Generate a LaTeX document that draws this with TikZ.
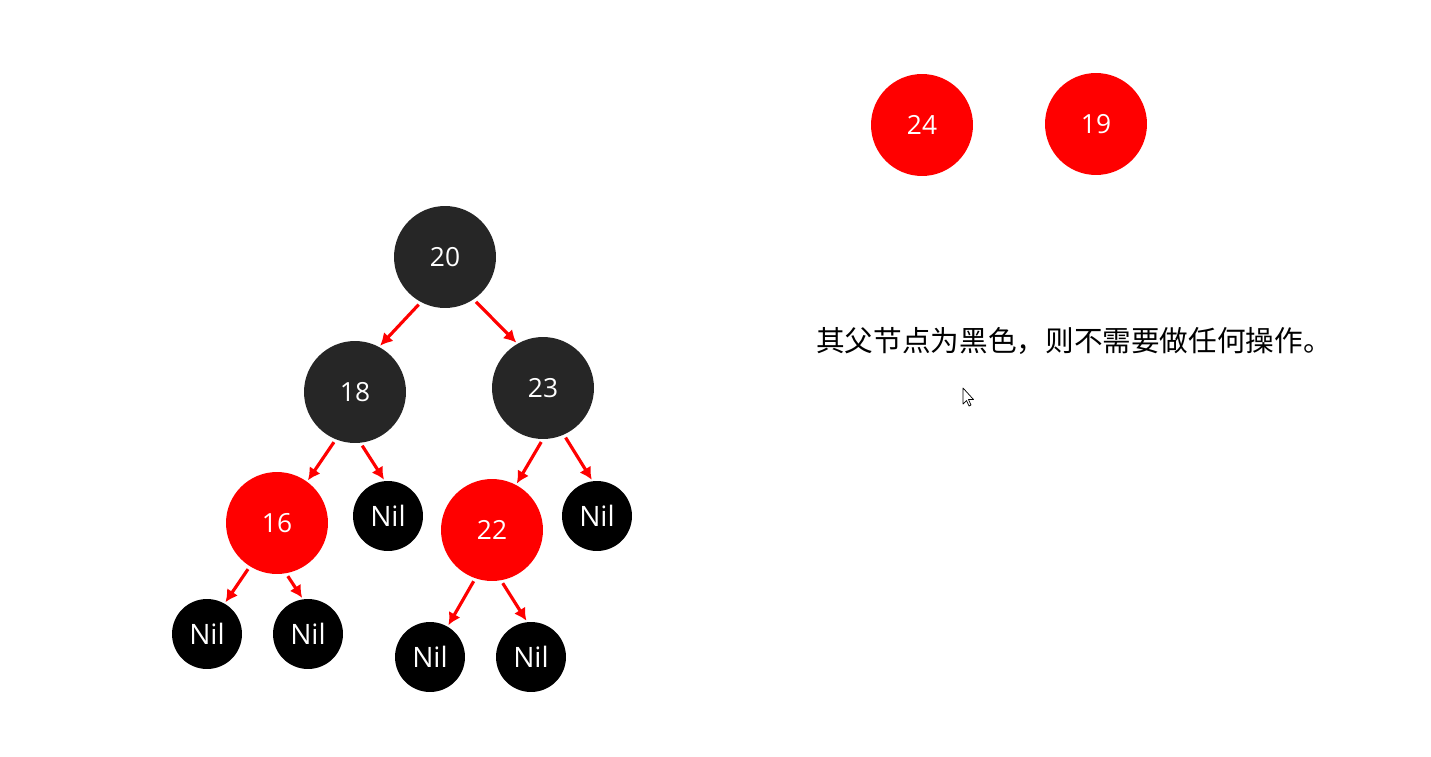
\documentclass[tikz,border=0pt]{standalone}
\usepackage{fontspec}
\setmainfont{Open Sans}
\newfontfamily\cjk{Noto Sans CJK SC}
\usetikzlibrary{arrows.meta}
\definecolor{donker}{HTML}{262626}
\definecolor{rood}{HTML}{FF0000}
\begin{document}
\begin{tikzpicture}[x=0.02cm, y=-0.02cm]

            % Stijlen voor de knopen en pijlen
            \tikzset{
                rbnode/.style={circle, inner sep=0pt, outer sep=0pt, minimum size=2.04cm, text=white, font=\fontsize{15}{17}\selectfont},
                blacknode/.style={rbnode, fill=donker},
                rednode/.style={rbnode, fill=rood},
                nilnode/.style={circle, inner sep=0pt, outer sep=0pt, minimum size=1.4cm, fill=black, text=white, font=\fontsize{16}{18}\selectfont},
                treeedge/.style={rood, line width=1.8pt, ->, >={Latex[length=7pt,width=7.5pt]}, shorten <=2pt, shorten >=1pt}
            }

            \useasboundingbox (0,0) rectangle (1431,757);

            % --- BOVENSTE KNOPEN ---
            \node[rednode] (n24) at (922,125) {24};
            \node[rednode] (n19) at (1096,124) {19};

            % --- BOOM ---
            \node[blacknode] (n20) at (445,257) {20};
            \node[blacknode] (n18) at (355,392) {18};
            \node[blacknode] (n23) at (543,388) {23};
            \node[rednode] (n16) at (277,523) {16};
            \node[nilnode] (nilA) at (388,516) {Nil};
            \node[rednode] (n22) at (492,530) {22};
            \node[nilnode] (nilB) at (597,516) {Nil};
            \node[nilnode] (nilC) at (207,634) {Nil};
            \node[nilnode] (nilD) at (308,634) {Nil};
            \node[nilnode] (nilE) at (430,657) {Nil};
            \node[nilnode] (nilF) at (531,657) {Nil};

            % --- PIJLEN ---
            \draw[treeedge] (n20.-118) -- (n18.62);
            \draw[treeedge] (n20.-56) -- (n23.120);
            \draw[treeedge] (n18.-112) -- (n16.54);
            \draw[treeedge] (n18.-84) -- (nilA.95);
            \draw[treeedge] (n23.-90) -- (n22.62);
            \draw[treeedge] (n23.-66) -- (nilB.97);
            \draw[treeedge] (n16.-122) -- (nilC.60);
            \draw[treeedge] (n16.-80) -- (nilD.98);
            \draw[treeedge] (n22.-109) -- (nilE.60);
            \draw[treeedge] (n22.-80) -- (nilF.96);

            % --- TEKST ---
            \node[font=\cjk\fontsize{16.3}{18}\selectfont] (uitleg) at (1074,341) {其父节点为黑色，则不需要做任何操作。};

            % muiswijzer
            \draw[fill=white, line width=0.4pt, line join=round]
                (963,388) -- (963,404) -- (966.5,400.5) -- (969,406) -- (971,405)
                -- (968.5,399.5) -- (973.5,399.5) -- cycle;

        \end{tikzpicture}
\end{document}
